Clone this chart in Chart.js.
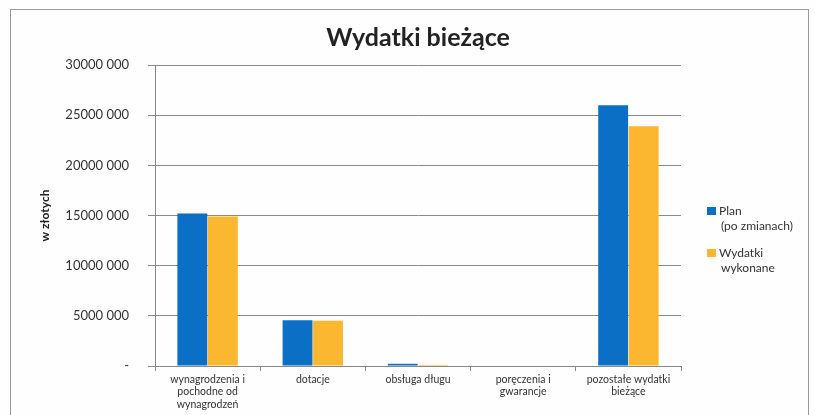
<!DOCTYPE html>
<html>
<head>
<meta charset="utf-8">
<script src="https://cdn.jsdelivr.net/npm/chart.js@4/dist/chart.umd.min.js"></script>
<style>
  html, body { margin: 0; padding: 0; background: #fefefe; }
  #wrap { position: relative; width: 815px; height: 415px; }
  #frame { position: absolute; left: 10px; top: 9px; width: 797px; height: 420px; border: 1px solid #9a9a9a; }
  canvas { position: absolute; left: 0; top: 0; }
</style>
</head>
<body>
<div id="wrap">
  <div id="frame"></div>
  <canvas id="chart" width="815" height="415"></canvas>
</div>
<script>
// chart data
const categories = [
  ['wynagrodzenia i', 'pochodne od', 'wynagrodzeń'],
  'dotacje',
  'obsługa długu',
  ['poręczenia i', 'gwarancje'],
  ['pozostałe wydatki', 'bieżące']
];
const planValues = [15200000, 4550000, 220000, 0, 26000000];
const spentValues = [14900000, 4500000, 110000, 0, 23900000];
const seriesLabels = [['Plan', '(po zmianach)'], ['Wydatki', 'wykonane']];
const yTicks = [0, 5000000, 10000000, 15000000, 20000000, 25000000, 30000000];
const chartTitle = 'Wydatki bieżące';

const FONT = 'Lato, "Open Sans", sans-serif';

// tick label like "25000 000", zero as "-"
function formatTick(v) {
  if (v === 0) return '-';
  return Math.floor(v / 1000) + ' 000';
}

// title centred on the page + legend with multi-line labels on the right
const decorations = {
  id: 'decorations',
  afterDraw(chart) {
    const ctx = chart.ctx;
    ctx.save();

    ctx.font = 'bold 25px ' + FONT;
    ctx.fillStyle = '#222';
    ctx.textAlign = 'center';
    ctx.textBaseline = 'middle';
    ctx.fillText(chartTitle, 418, 38);

    const x = chart.chartArea.right + 26;
    let y = 211;
    ctx.font = '12px ' + FONT;
    ctx.textAlign = 'left';
    chart.data.datasets.forEach(ds => {
      const lines = Array.isArray(ds.label) ? ds.label : [ds.label];
      ctx.fillStyle = ds.backgroundColor;
      ctx.fillRect(x, y - 4, 9, 8);
      ctx.fillStyle = '#333';
      lines.forEach((line, i) => {
        ctx.fillText(line, x + 12 + (i > 0 ? 2 : 0), y + i * 15);
      });
      y += lines.length * 15 + 12;
    });
    ctx.restore();
  }
};

new Chart(document.getElementById('chart').getContext('2d'), {
  type: 'bar',
  data: {
    labels: categories,
    datasets: [
      {
        label: seriesLabels[0],
        data: planValues,
        backgroundColor: '#0b6fc6',
        categoryPercentage: 0.58,
        barPercentage: 0.98
      },
      {
        label: seriesLabels[1],
        data: spentValues,
        backgroundColor: '#fcb731',
        categoryPercentage: 0.58,
        barPercentage: 0.98
      }
    ]
  },
  options: {
    responsive: false,
    animation: false,
    layout: { padding: { left: 38, right: 134, top: 65, bottom: 0 } },
    plugins: {
      legend: { display: false },
      tooltip: { enabled: false },
      title: { display: false }
    },
    scales: {
      x: {
        grid: { drawOnChartArea: false, drawTicks: true, tickLength: 5, color: '#888', offset: true },
        border: { color: '#888' },
        ticks: { color: '#333', font: { family: FONT, size: 10.5 }, maxRotation: 0, autoSkip: false, padding: 2 },
        afterFit(scale) { scale.height = 49; }
      },
      y: {
        min: 0,
        max: 30000000,
        afterBuildTicks(scale) { scale.ticks = yTicks.map(v => ({ value: v })); },
        grid: { color: '#8a8a8a', tickLength: 7 },
        border: { color: '#888' },
        ticks: { color: '#333', font: { family: FONT, size: 13 }, padding: 19, callback: formatTick },
        title: {
          display: true,
          text: 'w złotych',
          color: '#222',
          font: { family: FONT, size: 12, weight: 'bold' },
          padding: { top: 0, bottom: 0 }
        },
        afterFit(scale) { scale.width = 117; }
      }
    }
  },
  plugins: [decorations]
});
</script>
</body>
</html>
